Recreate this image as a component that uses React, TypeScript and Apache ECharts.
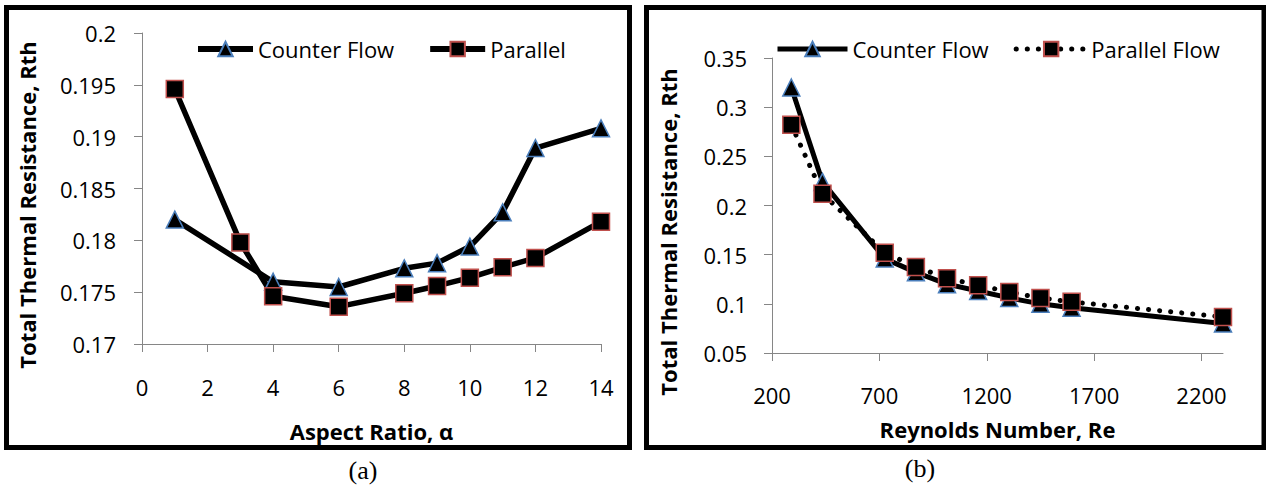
import React, { useEffect, useRef } from "react";
import * as echarts from "echarts";

// (a) Aspect ratio chart
const aspectCounterX = [1, 4, 6, 8, 9, 10, 11, 12, 14];
const aspectCounterY = [0.182, 0.176, 0.1755, 0.1773, 0.1778, 0.1794, 0.1827, 0.1889, 0.1908];
const aspectParallelX = [1, 3, 4, 6, 8, 9, 10, 11, 12, 14];
const aspectParallelY = [0.1946, 0.1798, 0.1746, 0.1736, 0.1749, 0.1756, 0.1764, 0.1774, 0.1783, 0.1818];

// (b) Reynolds number chart
const reynolds = [290, 435, 725, 870, 1015, 1160, 1305, 1450, 1595, 2300];
const reCounterY = [0.32, 0.224, 0.146, 0.132, 0.12, 0.113, 0.106, 0.1, 0.096, 0.08];
const reParallelY = [0.282, 0.212, 0.152, 0.1375, 0.126, 0.119, 0.112, 0.106, 0.102, 0.0866];
const reTicks = [200, 700, 1200, 1700, 2200];

const FONT = "Open Sans";
const AXIS_GRAY = "#868686";

const zip = (xs: number[], ys: number[]) => xs.map((x, i) => [x, ys[i]]);

export default function App() {
  const ref = useRef<HTMLDivElement>(null);
  useEffect(() => {
    if (!ref.current) return;
    const chart = echarts.init(ref.current, null, { renderer: "svg" });
    const axisCommon = {
      axisLine: { show: true, lineStyle: { color: AXIS_GRAY, width: 1 } },
      axisTick: { show: true, length: 8, lineStyle: { color: AXIS_GRAY, width: 1 } },
      splitLine: { show: false },
    };
    const labelStyle = { fontFamily: FONT, fontSize: 22, color: "#000" };
    const fmt = (v: number) => String(+v.toFixed(3));
    const triangle = {
      symbol: "triangle",
      symbolSize: 17,
      itemStyle: { color: "#000", borderColor: "#4a7ebb", borderWidth: 1.5 },
    };
    const square = {
      symbol: "rect",
      symbolSize: 17,
      itemStyle: { color: "#000", borderColor: "#c0504d", borderWidth: 1.5 },
    };
    const titleStyle = { fontFamily: FONT, fontSize: 22, fontWeight: "bold", color: "#000" };
    const titleFont = `bold 22px "${FONT}"`;
    chart.setOption({
      animation: false,
      backgroundColor: "#fff",
      grid: [
        { left: 142, top: 33, width: 459, height: 311 },
        { left: 772, top: 58, width: 451, height: 295 },
      ],
      xAxis: [
        {
          type: "value",
          gridIndex: 0,
          min: 0,
          max: 14,
          interval: 2,
          ...axisCommon,
          axisLabel: { ...labelStyle, margin: 32, formatter: (v: number) => String(v) },
          name: "Aspect Ratio, α",
          nameLocation: "middle",
          nameGap: 76,
          nameTextStyle: titleStyle,
        },
        {
          type: "value",
          gridIndex: 1,
          min: 200,
          max: 2300,
          interval: 500,
          ...axisCommon,
          axisTick: { show: true, length: 8, customValues: reTicks, lineStyle: { color: AXIS_GRAY, width: 1 } },
          axisLabel: { ...labelStyle, margin: 31, customValues: reTicks, formatter: (v: number) => String(v) },
          name: "Reynolds Number, Re",
          nameLocation: "middle",
          nameGap: 65,
          nameTextStyle: titleStyle,
        },
      ],
      yAxis: [
        {
          type: "value",
          gridIndex: 0,
          min: 0.17,
          max: 0.2,
          interval: 0.005,
          ...axisCommon,
          axisLabel: { ...labelStyle, margin: 26, formatter: fmt },
        },
        {
          type: "value",
          gridIndex: 1,
          min: 0.05,
          max: 0.35,
          interval: 0.05,
          ...axisCommon,
          axisLabel: { ...labelStyle, margin: 25, formatter: fmt },
        },
      ],
      legend: [
        {
          data: ["Counter Flow", "Parallel"],
          left: 190,
          top: 33,
          itemWidth: 55,
          itemHeight: 18,
          itemGap: 33,
          lineStyle: { width: 6 },
          textStyle: { fontFamily: FONT, fontSize: 22, color: "#000" },
          selectedMode: false,
        },
        {
          data: ["Counter Flow", "Parallel Flow"],
          left: 770,
          top: 33,
          itemWidth: 70,
          itemHeight: 18,
          itemGap: 25,
          lineStyle: { width: 5 },
          textStyle: { fontFamily: FONT, fontSize: 22, color: "#000" },
          selectedMode: false,
        },
      ],
      series: [
        {
          name: "Counter Flow",
          type: "line",
          xAxisIndex: 0,
          yAxisIndex: 0,
          data: zip(aspectCounterX, aspectCounterY),
          lineStyle: { color: "#000", width: 5.5 },
          ...triangle,
        },
        {
          name: "Parallel",
          type: "line",
          xAxisIndex: 0,
          yAxisIndex: 0,
          data: zip(aspectParallelX, aspectParallelY),
          lineStyle: { color: "#000", width: 5.5 },
          ...square,
        },
        {
          name: "Counter Flow",
          type: "line",
          xAxisIndex: 1,
          yAxisIndex: 1,
          data: zip(reynolds, reCounterY),
          lineStyle: { color: "#000", width: 5 },
          ...triangle,
        },
        {
          name: "Parallel Flow",
          type: "line",
          xAxisIndex: 1,
          yAxisIndex: 1,
          data: zip(reynolds, reParallelY),
          lineStyle: { color: "#000", width: 5, type: [0.1, 11], cap: "round" },
          ...square,
        },
      ],
      graphic: [
        {
          type: "rect",
          shape: { x: 6.5, y: 7.5, width: 623, height: 440 },
          style: { fill: "transparent", stroke: "#000", lineWidth: 5 },
          silent: true,
        },
        {
          type: "rect",
          shape: { x: 646.5, y: 7.5, width: 617.5, height: 440 },
          style: { fill: "transparent", stroke: "#000", lineWidth: 5 },
          silent: true,
        },
        {
          type: "text",
          x: 27,
          y: 205,
          rotation: Math.PI / 2,
          style: { text: "Total Thermal Resistance, Rth", fill: "#000", align: "center", verticalAlign: "middle", font: titleFont },
        },
        {
          type: "text",
          x: 668,
          y: 232,
          rotation: Math.PI / 2,
          style: { text: "Total Thermal Resistance, Rth", fill: "#000", align: "center", verticalAlign: "middle", font: titleFont },
        },
        {
          type: "text",
          x: 363,
          y: 470,
          style: { text: "(a)", fill: "#000", align: "center", verticalAlign: "middle", font: `26px "Liberation Serif"` },
        },
        {
          type: "text",
          x: 920,
          y: 468,
          style: { text: "(b)", fill: "#000", align: "center", verticalAlign: "middle", font: `26px "Liberation Serif"` },
        },
      ],
    });
    return () => chart.dispose();
  }, []);
  return (
    <div
      ref={ref}
      style={{ position: "absolute", left: 0, top: 0, width: 1266, height: 486 }}
    />
  );
}
